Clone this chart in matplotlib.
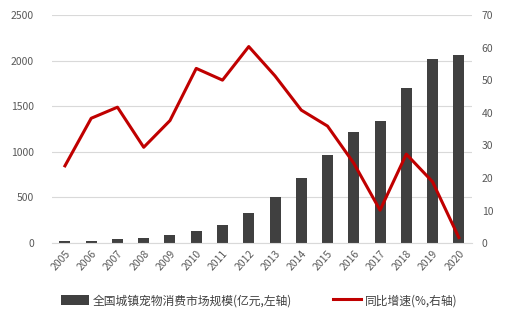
import matplotlib
matplotlib.use("Agg")
import matplotlib.pyplot as plt
import numpy as np

plt.rcParams["font.family"] = ["Noto Sans CJK SC", "DejaVu Sans"]

years = [str(y) for y in range(2005, 2021)]
market_size = [25, 25, 44, 55, 88, 135, 197, 332, 504, 713, 965, 1217, 1338, 1700, 2018, 2061]
growth_pct = [23.7, 38.3, 41.7, 29.4, 37.6, 53.6, 50.0, 60.3, 51.3, 40.8, 35.9, 24.5, 10.1, 27.3, 18.8, 1.7]

bar_label = "全国城镇宠物消费市场规模(亿元,左轴)"
line_label = "同比增速(%,右轴)"

TICK_COLOR = "#595959"
GRID_COLOR = "#d9d9d9"

fig = plt.figure(figsize=(5.13, 3.25), dpi=100)
ax = fig.add_axes([0.101, 0.252, 0.819, 0.702])
ax2 = ax.twinx()

x = np.arange(len(years))
bars = ax.bar(x, market_size, width=0.42, color="#404040", zorder=2, label=bar_label)
line, = ax2.plot(x, growth_pct, color="#C00000", linewidth=2.2, zorder=3, label=line_label)

ax.set_xlim(-0.5, len(years) - 0.5)
ax.set_ylim(0, 2500)
ax.set_yticks(range(0, 2501, 500))
ax2.set_ylim(0, 70)
ax2.set_yticks(range(0, 71, 10))

ax.yaxis.grid(True, color=GRID_COLOR, linewidth=0.8, zorder=0)
ax.set_axisbelow(True)

for a in (ax, ax2):
    for side in ("top", "left", "right", "bottom"):
        a.spines[side].set_visible(False)
    a.tick_params(length=0, labelsize=7.5, colors=TICK_COLOR)
ax.spines["bottom"].set_visible(True)
ax.spines["bottom"].set_color(GRID_COLOR)

ax.tick_params(axis="y", pad=13)
ax2.tick_params(axis="y", pad=7)
ax.set_xticks(x)
ax.set_xticklabels(years, rotation=48, ha="right", rotation_mode="anchor")
ax.tick_params(axis="x", pad=4)

fig.legend(
    [bars, line],
    [bar_label, line_label],
    loc="center",
    bbox_to_anchor=(0.505, 0.075),
    ncol=2,
    frameon=False,
    fontsize=8.5,
    handlelength=2.4,
    handleheight=1.0,
    handletextpad=0.3,
    columnspacing=3.5,
    labelcolor="#404040",
)

fig.savefig("out.png", dpi=100)
